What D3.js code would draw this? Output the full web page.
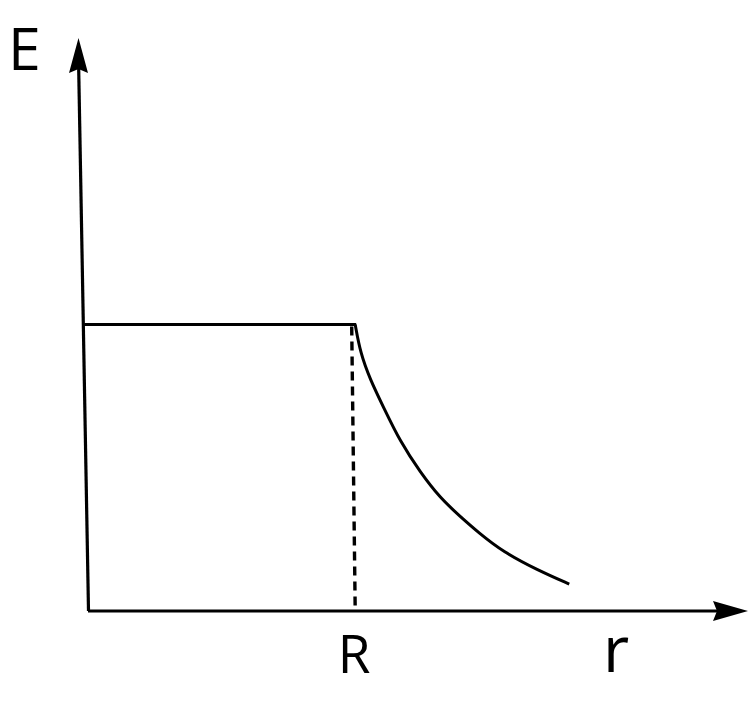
<!DOCTYPE html>
<html>
<head>
<meta charset="utf-8">
<script src="https://cdn.jsdelivr.net/npm/d3@7"></script>
<style>
  html, body { margin: 0; padding: 0; background: #fff; }
  svg { display: block; }
  text { font-family: "Open Sans", "Noto Sans", sans-serif; fill: #000; }
</style>
</head>
<body>
<svg id="chart" width="756" height="703"></svg>
<script>
// Data (r in units of R, E in units of E(R))
const innerR = [0, 1];           // constant field inside the sphere
const innerE = [1, 1];
const outerR = [1.0, 1.019, 1.056, 1.105, 1.169, 1.243, 1.318, 1.393, 1.461, 1.554, 1.682, 1.801];
const outerE = [1.0, 0.902, 0.808, 0.713, 0.590, 0.485, 0.394, 0.330, 0.274, 0.206, 0.143, 0.094];
const axisLabels = { x: "r", y: "E", mark: "R" };
const rMax = 2.47;
const eMax = 2.0;

const svg = d3.select("#chart");
const x = d3.scaleLinear().domain([0, rMax]).range([88, 748]);
const y = d3.scaleLinear().domain([0, eMax]).range([611, 38]);
const lean = 9.5; // the hand-drawn y-axis leans left by this many px over its height
const xl = (r, e) => x(r) - lean * (e / eMax) * (r === 0 ? 1 : 0);

// X axis with arrow
svg.append("line")
  .attr("x1", x(0)).attr("y1", y(0))
  .attr("x2", x(rMax) - 20).attr("y2", y(0))
  .attr("stroke", "#000").attr("stroke-width", 3.2);
svg.append("path")
  .attr("d", d3.line()([[x(rMax), y(0)], [x(rMax) - 35, y(0) - 10], [x(rMax) - 31, y(0)], [x(rMax) - 35, y(0) + 10]]) + "Z")
  .attr("fill", "#000");

// Y axis with arrow (slightly leaning)
svg.append("line")
  .attr("x1", x(0) + 0.5).attr("y1", y(0))
  .attr("x2", x(0) - lean).attr("y2", y(eMax) + 20)
  .attr("stroke", "#000").attr("stroke-width", 3.2);
const tipX = x(0) - lean, tipY = y(eMax);
svg.append("path")
  .attr("d", d3.line()([[tipX, tipY], [tipX + 9.5, tipY + 35], [tipX, tipY + 31], [tipX - 9.5, tipY + 35]]) + "Z")
  .attr("fill", "#000");

// Inside: constant field
svg.append("path")
  .datum(innerR.map((r, i) => [r, innerE[i]]))
  .attr("d", d3.line().x(d => xl(d[0], d[1]) + 1).y(d => y(d[1])))
  .attr("fill", "none").attr("stroke", "#000").attr("stroke-width", 3);

// Dashed marker at r = R
svg.append("line")
  .attr("x1", x(1) - 3.5).attr("y1", y(1) + 2)
  .attr("x2", x(1)).attr("y2", y(0))
  .attr("stroke", "#000").attr("stroke-width", 3.4)
  .attr("stroke-dasharray", "9,6");

// Outside: decaying field
svg.append("path")
  .datum(outerR.map((r, i) => [r, outerE[i]]))
  .attr("d", d3.line().x(d => x(d[0])).y(d => y(d[1])).curve(d3.curveBasis))
  .attr("fill", "none").attr("stroke", "#000").attr("stroke-width", 3);

// Labels
svg.append("text").attr("x", 8).attr("y", 70)
  .attr("font-size", 59).text(axisLabels.y);
svg.append("text").attr("x", x(1) - 1).attr("y", 673)
  .attr("text-anchor", "middle").attr("font-size", 53).text(axisLabels.mark);
svg.append("text").attr("x", 603).attr("y", 672)
  .attr("font-size", 64).text(axisLabels.x);
</script>
</body>
</html>
